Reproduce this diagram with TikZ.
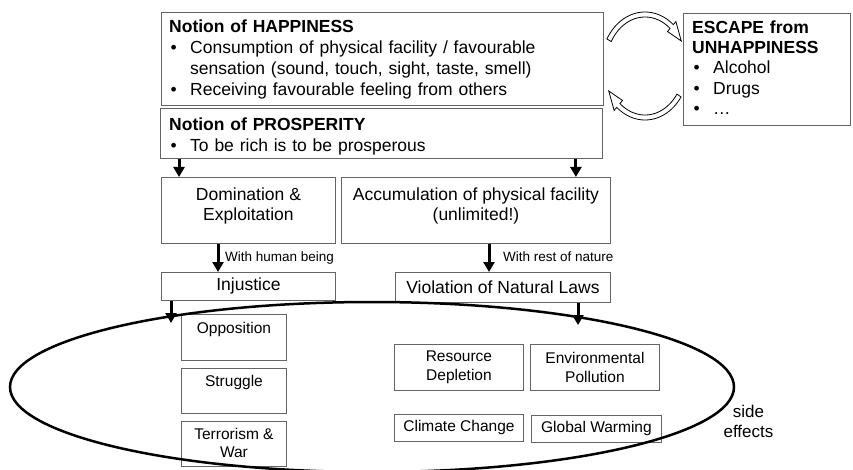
\documentclass[tikz,border=0pt]{standalone}
\usepackage{fontspec}
\setmainfont{Liberation Sans}
\usetikzlibrary{arrows.meta,shapes.geometric,calc}
\definecolor{boxgray}{RGB}{100,100,100}
% bullet line with hanging indent
\newcommand\bul{\par\hangindent=21pt\hangafter=1\noindent\makebox[21pt][l]{\hspace{1.5pt}\textbullet}}
\newcommand\contline{\\\hspace*{21pt}}
\begin{document}
\begin{tikzpicture}[x=1pt,y=-1pt,
  box/.style={draw=boxgray, line width=0.9pt, fill=white, inner sep=0pt, anchor=north west},
  bigf/.style={font=\fontsize{17.5}{21}\selectfont},
  midf/.style={font=\fontsize{17.5}{20}\selectfont},
  smallf/.style={font=\fontsize{15.5}{19}\selectfont},
  labf/.style={font=\fontsize{13.5}{16}\selectfont},
  listtxt/.style={anchor=north west, inner sep=0pt, align=left},
  arr/.style={line width=3pt, -{Triangle[width=11pt,length=10pt]}},
  curv/.style={draw=black, line width=0.8pt, fill=white, line join=miter}]
\useasboundingbox (0,0) rectangle (853,470);

% upper notion boxes
\node[box, minimum width=442pt, minimum height=93pt] (hap) at (161,12) {};
\node[box, minimum width=442pt, minimum height=50pt] (prosp) at (160,108) {};
\node[box, minimum width=167pt, minimum height=112pt] (esc) at (683,13) {};

\node[listtxt, bigf, text width=430pt] (haptxt) at (169,19.5)
  {\textbf{Notion of HAPPINESS}\bul Consumption of physical facility / favourable\contline sensation (sound, touch, sight, taste, smell)\bul Receiving favourable feeling from others};
\node[listtxt, bigf, text width=430pt] (prosptxt) at (169,117.5)
  {\textbf{Notion of PROSPERITY}\bul To be rich is to be prosperous};
\node[listtxt, font=\fontsize{17.5}{20.3}\selectfont, text width=155pt] (esctxt) at (692,20.5)
  {\textbf{ESCAPE from}\\\textbf{UNHAPPINESS}\bul Alcohol\bul Drugs\bul \ldots};

% cycle arrows between happiness and escape
\draw[curv] plot[domain=-150:-50, samples=30, variable=\t] ({645+44*cos(\t)},{66+54*sin(\t)})
  -- ({645+48*cos(-50)},{66+58*sin(-50)})
  -- ({645+41.5*cos(-29)},{66+51.5*sin(-29)})
  -- ({645+35*cos(-50)},{66+45*sin(-50)})
  -- plot[domain=-50:-150, samples=30, variable=\t] ({645+39*cos(\t)},{66+49*sin(\t)}) -- cycle;
\draw[curv] plot[domain=35:130, samples=30, variable=\t] ({645+44*cos(\t)},{66+54*sin(\t)})
  -- ({645+48*cos(130)},{66+58*sin(130)})
  -- ({645+41.5*cos(151)},{66+51.5*sin(151)})
  -- ({645+35*cos(130)},{66+45*sin(130)})
  -- plot[domain=130:35, samples=30, variable=\t] ({645+39*cos(\t)},{66+49*sin(\t)}) -- cycle;

% middle boxes
\node[box, minimum width=174pt, minimum height=66pt] (dom) at (161,177) {};
\node[box, minimum width=269pt, minimum height=66pt] (acc) at (341,177) {};
\node[midf, align=center, inner sep=0pt] (domtxt) at ([yshift=4pt]dom.center) {Domination \&\\Exploitation};
\node[midf, align=center, inner sep=0pt] (acctxt) at ([yshift=4pt]acc.center) {Accumulation of physical facility\\(unlimited!)};

\node[box, bigf, minimum width=174pt, minimum height=28pt] (inj) at (161,272) {Injustice};
\node[box, bigf, minimum width=215pt, minimum height=30pt] (viol) at (395,272) {Violation of Natural Laws};

% arrows
\draw[arr] ([xshift=19pt]prosp.south west) -- ([xshift=18pt]dom.north west);
\draw[arr] ([xshift=-27pt]prosp.south east) -- ([xshift=-35pt]acc.north east);
\draw[arr] ([xshift=57pt]dom.south west) -- ([xshift=57pt]inj.north west);
\draw[arr] ([xshift=148pt]acc.south west) -- ([xshift=94pt]viol.north west);
\node[labf, anchor=base west, inner sep=0pt] (lab1) at (225,261) {With human being};
\node[labf, anchor=base west, inner sep=0pt] (lab2) at (503,261) {With rest of nature};

% side effect boxes
\node[box, minimum width=105pt, minimum height=46pt] (opp) at (181,314) {};
\node[box, minimum width=105pt, minimum height=45pt] (strug) at (181,368) {};
\node[box, minimum width=105pt, minimum height=45pt] (terr) at (181,421) {};
\node[smallf, anchor=north, inner sep=0pt] (opptxt) at ([yshift=-8pt]opp.north) {Opposition};
\node[smallf, anchor=north, inner sep=0pt] (strugtxt) at ([yshift=-6.7pt]strug.north) {Struggle};
\node[smallf, anchor=north, inner sep=0pt, align=center, font=\fontsize{15.5}{18.5}\selectfont] (terrtxt) at ([yshift=-6.8pt]terr.north) {Terrorism \&\\War};

\node[box, smallf, align=center, minimum width=129pt, minimum height=46pt] (res) at (394,344) {Resource\\Depletion};
\node[box, smallf, align=center, minimum width=129pt, minimum height=46pt] (env) at (530,344) {Environmental\\Pollution};
\node[box, smallf, minimum width=129pt, minimum height=27pt] (clim) at (394,414) {Climate Change};
\node[box, smallf, minimum width=130pt, minimum height=27pt] (glob) at (531,415) {Global Warming};

% side-effect ellipse
\node[draw, ellipse, line width=2.5pt, minimum width=724pt, minimum height=170pt, inner sep=0pt] (fx) at (372,387) {};
\node[font=\fontsize{17}{20}\selectfont, align=center, anchor=north, inner sep=0pt] (sidetxt) at (748.5,404.6) {side\\effects};

\coordinate (e1) at (171,323);
\coordinate (e2) at (578,325);
\draw[arr] (inj.south west -| e1) -- (e1);
\draw[arr] (viol.south west -| e2) -- (e2);
\end{tikzpicture}
\end{document}
